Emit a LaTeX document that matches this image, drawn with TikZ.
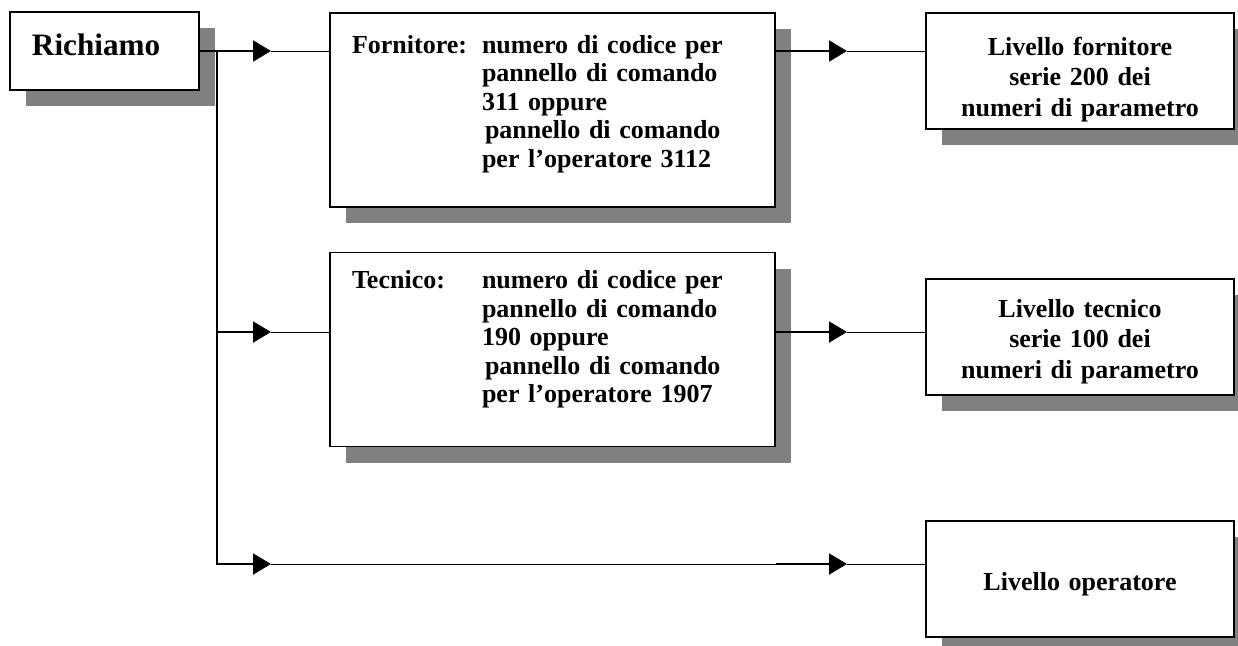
\documentclass[tikz,border=0pt]{standalone}
\usepackage{fontspec}
\setmainfont{Liberation Serif}
\usetikzlibrary{arrows.meta,positioning,shadows}

\begin{document}
\begin{tikzpicture}[x=1pt,y=1pt,
  box/.style={draw,fill=white,line width=0.75pt,inner ysep=0pt,
    drop shadow={shadow xshift=8pt,shadow yshift=-8pt,fill=gray,opacity=1},
    font=\fontsize{13}{14.25}\selectfont\bfseries},
  lbox/.style={box,align=left,inner xsep=11pt,text width=200.5pt,minimum width=222.5pt,minimum height=97pt},
  rbox/.style={box,align=center,inner xsep=5pt,text width=144pt,minimum width=154pt,minimum height=58pt,
    font=\fontsize{13}{15.25}\selectfont\bfseries},
  thk/.style={line width=1pt},
  thn/.style={line width=0.5pt},
  arr/.style={-{Triangle[length=9pt,width=10.5pt]}}]
\useasboundingbox (0,0) rectangle (619,-322.5);
\node[box,align=left,inner xsep=11pt,text width=72.5pt,minimum width=94.5pt,minimum height=39pt,
  text height=21.5pt,text depth=17.5pt,font=\fontsize{15.6}{18}\selectfont\bfseries] (rich) at (52.25,-25.5) {Richiamo};
\node[lbox,text height=20pt,text depth=77pt] (forn) at (276.25,-55)
  {\makebox[65pt][l]{Fornitore:}numero di codice per\\
   \hspace*{65pt}pannello di comando\\
   \hspace*{65pt}311 oppure\\
   \hspace*{66.5pt}pannello di comando\\
   \hspace*{65pt}per l'operatore 3112};
\node[lbox,below=22pt of forn,text height=18pt,text depth=79pt] (tecn)
  {\makebox[65pt][l]{Tecnico:}numero di codice per\\
   \hspace*{65pt}pannello di comando\\
   \hspace*{65pt}190 oppure\\
   \hspace*{66.5pt}pannello di comando\\
   \hspace*{65pt}per l'operatore 1907};
\node[rbox,text height=21pt,text depth=37pt] (livF) at (540,-35.5) {Livello fornitore\\ serie 200 dei\\ numeri di parametro};
\node[rbox,text height=19pt,text depth=39pt] (livT) at (540,-168.5) {Livello tecnico\\ serie 100 dei\\ numeri di parametro};
\node[rbox,text height=34.5pt,text depth=23.5pt] (livO) at (540,-289.5) {Livello operatore};
\coordinate (jF) at (108.5,-25.5);
\coordinate (aF) at (135.5,-25.5);
\coordinate (bF) at (423.5,-25.5);
\coordinate (aT) at (135.5,-166);
\coordinate (bT) at (423.5,-166);
\coordinate (aO) at (135.5,-282);
\coordinate (bO) at (423.5,-282);
\draw[thk,arr] (rich.east) -- (aF);
\draw[thn] (aF) -- (aF -| forn.west);
\draw[thk,arr] (forn.east |- bF) -- (bF);
\draw[thn] (bF) -- (bF -| livF.west);
\draw[thk,arr] (jF) |- (aO);
\draw[thk,arr] (aT -| jF) -- (aT);
\draw[thn] (aT) -- (aT -| tecn.west);
\draw[thk,arr] (tecn.east |- bT) -- (bT);
\draw[thn] (bT) -- (bT -| livT.west);
\draw[thn] (aO) -- (aO -| tecn.east);
\draw[thk,arr] (aO -| tecn.east) -- (bO);
\draw[thn] (bO) -- (bO -| livO.west);
\end{tikzpicture}
\end{document}
